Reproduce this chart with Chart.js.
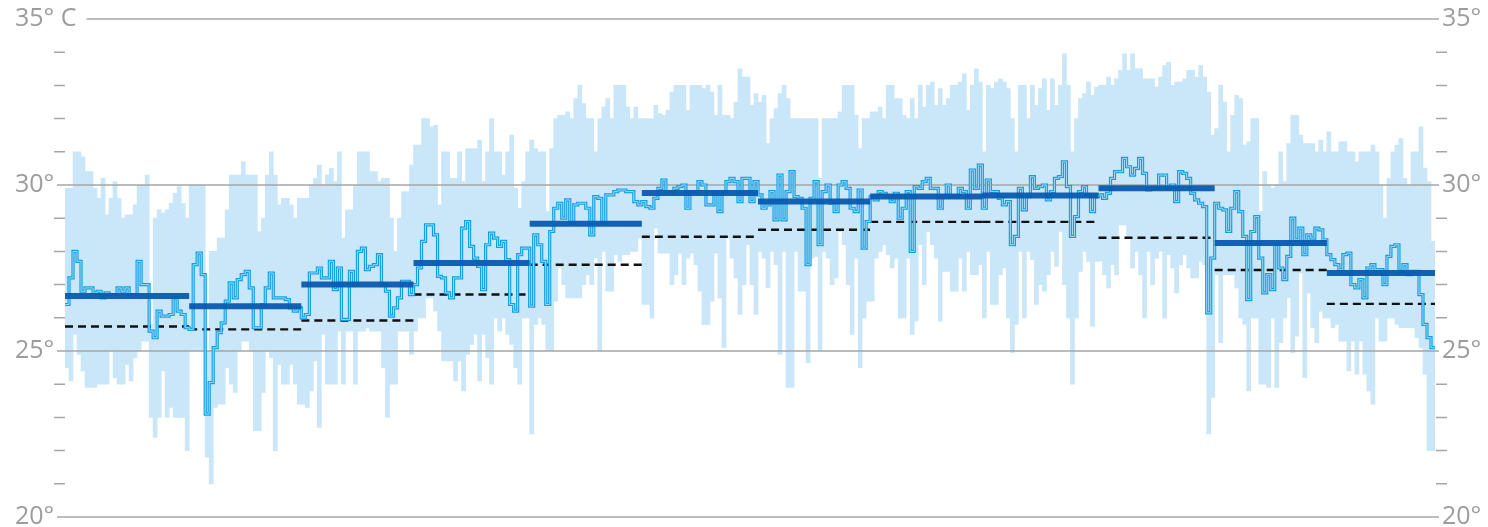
<!DOCTYPE html>
<html>
<head>
<meta charset="utf-8">
<script src="https://cdn.jsdelivr.net/npm/chart.js@4.4.1/dist/chart.umd.min.js"></script>
<style>
html,body{margin:0;padding:0;background:#ffffff;}
#wrap{width:1488px;height:527px;position:relative;}
</style>
</head>
<body>
<div id="wrap"><canvas id="c"></canvas></div>
<script>
// ---------- DATA ----------
const monthNames = ['Jan','Feb','Mar','Apr','May','Jun','Jul','Aug','Sep','Oct','Nov','Dec'];
const monthDays  = [31,28,28,29,28,29,28,28,29,29,28,27];   // days shown per month
const monthlyMean   = [26.66,26.35,27.0,27.65,28.83,29.76,29.5,29.65,29.68,29.9,28.25,27.35];
const monthlyNormal = [25.74,25.65,25.92,26.7,27.6,28.44,28.65,28.89,28.89,28.41,27.44,26.42];

const dailyHigh = [
 29.9,29.9,31.0,31.0,30.85,30.4,30.4,29.9,29.6,30.2,29.1,29.6,30.1,29.6,29.0,29.1,29.1,29.4,30.0,30.0,30.3,25.8,29.0,29.25,29.15,29.25,29.45,29.75,29.95,29.45,29.0,
 30.0,30.0,30.0,30.0,25.0,28.0,28.0,28.4,28.4,29.25,30.3,30.3,30.3,30.7,30.3,30.3,30.3,28.6,29.0,30.3,31.0,30.3,29.4,29.6,29.6,29.4,29.0,29.6,
 29.6,29.6,30.0,30.2,30.6,30.0,30.3,30.5,30.1,31.0,28.4,29.25,29.25,30.0,31.0,31.0,31.0,30.4,30.4,30.1,30.2,30.2,29.0,28.0,29.0,29.8,29.8,30.6,
 31.2,31.2,32.0,32.0,31.75,31.8,29.4,31.0,31.0,30.2,30.2,31.0,30.1,31.1,31.1,31.1,31.35,30.1,31.0,32.0,31.0,31.0,30.3,31.0,31.5,29.9,29.3,30.1,31.0,
 31.35,31.1,31.0,31.0,29.2,31.1,32.0,32.1,32.1,32.2,32.0,32.6,33.0,32.45,32.0,32.0,31.0,32.0,32.35,32.6,32.0,33.0,33.0,33.0,32.35,32.0,32.35,32.0,
 32.0,32.0,32.0,32.4,32.15,32.1,32.25,32.8,33.0,33.0,33.0,32.25,33.0,33.0,33.0,32.9,33.0,32.8,32.1,33.0,32.1,32.1,32.0,32.5,33.5,33.25,33.25,32.4,32.75,
 32.5,32.7,31.25,32.0,32.3,32.75,33.0,32.6,32.0,32.0,32.0,32.0,32.0,32.0,32.0,30.2,32.0,32.0,32.0,32.0,32.2,33.0,33.0,33.0,32.1,31.1,32.0,32.0,
 32.2,32.2,32.35,32.0,33.0,33.0,32.6,32.6,32.1,32.0,32.6,32.0,33.0,32.35,33.0,33.1,32.4,32.9,32.4,32.6,33.0,33.0,33.1,33.35,32.25,33.0,33.5,33.1,
 31.0,33.0,32.9,33.1,33.2,33.1,32.9,32.0,31.0,33.0,33.0,32.0,33.0,32.4,32.9,33.2,32.25,33.2,32.4,33.0,33.95,33.0,31.0,32.0,32.6,32.75,33.1,32.7,32.95,
 33.0,33.0,33.25,33.0,33.2,33.45,33.95,33.45,33.95,33.5,33.5,33.2,33.2,33.2,32.95,33.25,33.6,33.7,33.0,33.1,33.1,33.2,33.45,33.45,33.25,33.6,33.25,32.8,31.5,
 31.7,33.0,32.5,31.0,32.1,32.7,32.6,31.2,31.3,32.0,32.0,29.2,30.4,30.0,29.9,30.0,31.0,30.1,31.25,32.1,32.1,31.5,31.25,31.25,31.25,31.0,31.35,31.0,
 31.6,31.0,31.0,31.3,31.3,31.0,31.0,30.7,31.0,31.0,31.0,31.2,31.0,30.0,29.0,30.2,31.0,31.2,31.4,30.2,30.0,31.0,31.0,31.75,30.5,30.1,28.3
];
const dailyLow = [
 24.5,24.1,25.5,24.9,24.4,23.9,23.9,23.9,24.0,24.0,24.0,25.0,24.2,24.0,24.0,24.6,24.1,24.8,25.0,25.3,25.3,23.0,22.4,23.0,24.4,23.0,23.3,23.0,23.0,23.0,22.0,
 25.0,25.0,25.0,25.0,21.8,21.0,23.3,23.4,23.4,24.5,24.0,23.75,25.0,25.3,25.3,25.0,22.6,22.6,23.75,25.0,24.8,22.0,24.6,24.0,24.0,24.6,24.0,23.4,
 23.4,23.3,23.8,24.7,22.7,25.5,24.0,24.0,24.0,25.6,24.0,25.6,25.6,24.0,25.6,25.6,25.7,25.6,25.6,25.6,24.5,23.0,24.0,24.0,25.6,25.6,25.6,24.9,
 25.6,26.0,26.0,26.6,26.6,26.2,25.6,24.7,24.7,24.7,24.1,24.7,23.8,24.9,25.2,25.5,24.1,25.5,24.8,24.0,26.0,25.6,26.0,25.5,25.2,24.5,24.0,26.0,26.0,
 22.5,25.8,26.0,25.8,25.0,25.0,26.5,27.5,27.0,26.6,26.6,26.6,26.6,27.0,27.3,27.0,27.8,25.0,28.0,26.8,26.8,27.9,27.7,27.9,27.9,28.0,28.0,28.4,
 26.4,26.4,26.0,28.7,27.95,27.95,27.95,27.0,27.3,27.95,27.0,27.8,27.95,27.6,26.8,25.8,25.8,26.5,27.95,26.6,25.1,28.4,27.8,27.2,26.1,27.0,28.2,27.0,26.1,
 28.0,27.8,26.9,28.0,27.6,24.9,28.0,23.9,23.9,28.0,26.8,26.8,24.65,27.8,27.85,25.0,28.0,27.8,27.0,27.2,28.6,28.2,27.0,25.5,27.8,24.5,26.0,26.5,
 26.5,27.8,28.0,28.2,27.9,27.5,27.8,26.0,26.0,27.8,25.5,25.9,28.2,27.0,28.6,28.2,27.8,25.9,27.4,27.4,26.8,26.8,27.8,26.8,28.0,27.3,27.3,27.6,
 26.0,28.0,26.4,26.4,27.3,27.5,26.0,24.95,25.8,28.0,26.0,28.0,27.75,26.4,27.0,26.8,27.3,28.0,27.55,28.6,27.0,26.0,24.0,26.0,27.4,28.0,27.7,25.75,27.7,
 27.7,27.3,26.9,27.6,27.3,28.8,28.8,28.45,27.5,28.0,27.3,26.0,28.0,27.0,27.8,28.0,26.0,27.9,27.5,26.75,27.6,27.9,27.5,27.2,27.2,27.7,27.6,22.5,23.6,
 27.3,25.25,27.3,27.3,27.3,26.9,26.0,25.8,23.8,26.0,26.0,24.0,24.0,23.9,26.0,23.9,25.25,26.0,26.6,24.95,25.45,27.35,24.2,26.75,25.7,25.25,26.2,26.0,
 26.0,25.7,25.8,25.3,25.3,24.4,25.3,24.3,25.3,24.3,23.8,23.4,26.0,25.3,25.3,26.0,26.0,25.8,25.7,25.7,25.7,25.7,25.4,25.1,24.3,22.0,22.0
];
const dailyMean = [
 26.4,27.2,28.0,27.7,26.8,26.9,26.9,26.75,26.8,26.6,26.75,26.7,26.7,26.9,26.8,26.9,26.7,26.7,27.7,27.0,27.0,25.6,25.4,26.2,26.05,26.05,26.1,26.6,26.2,26.1,25.7,
 25.65,27.6,27.95,27.3,23.1,24.05,25.1,25.55,25.85,26.5,27.05,26.6,27.15,27.3,27.4,26.9,25.7,25.7,26.4,26.9,27.35,26.6,26.6,26.6,26.55,26.3,26.2,26.3,
 26.0,26.1,27.35,27.35,27.5,27.2,27.2,27.7,26.85,27.5,25.95,25.95,27.4,27.0,28.0,28.1,27.45,27.55,27.6,27.9,27.0,26.8,26.05,26.3,26.6,27.1,27.1,26.7,
 27.0,27.5,28.3,28.8,28.8,28.5,27.25,27.2,26.75,26.6,27.2,27.2,28.7,28.9,28.15,27.8,27.55,26.85,28.2,28.55,28.4,28.15,28.3,27.75,26.4,26.2,27.9,28.1,28.1,
 26.35,28.5,28.2,27.7,26.4,28.6,29.3,29.45,29.0,29.55,28.85,29.4,29.45,29.45,29.3,28.5,29.65,29.6,28.85,29.7,29.7,29.8,29.85,29.85,29.8,29.8,29.5,29.4,
 29.5,29.35,29.3,29.6,29.9,30.15,29.8,29.8,29.9,29.95,30.0,29.3,29.8,29.8,30.1,30.0,29.4,29.4,29.8,29.2,29.8,30.1,30.2,30.1,29.5,30.2,30.2,29.5,30.1,
 29.7,29.3,29.4,29.8,28.95,30.3,28.95,29.8,30.4,29.65,29.6,29.3,27.6,29.6,30.1,28.2,29.8,30.0,29.45,29.2,30.0,30.1,29.9,29.3,29.2,29.85,28.1,28.9,
 29.65,29.55,29.8,29.75,29.65,29.5,29.75,29.0,29.3,29.8,28.0,29.95,29.9,30.1,30.2,29.9,29.9,29.3,29.65,30.0,29.65,29.65,29.9,29.8,29.3,30.45,29.9,30.6,
 29.3,30.15,29.8,29.8,29.6,29.4,29.5,28.2,28.45,29.9,29.25,29.65,30.25,29.9,29.95,30.0,29.55,29.8,30.2,30.25,30.7,29.95,28.45,29.05,29.8,29.95,29.7,29.2,29.65,
 29.7,29.6,29.75,30.2,30.4,30.4,30.8,30.55,30.3,30.5,30.8,30.35,29.85,29.9,29.9,30.3,30.3,29.9,30.0,29.5,30.4,30.35,30.2,29.75,29.55,29.45,29.35,26.15,27.8,
 29.45,29.3,29.25,28.6,29.3,29.8,29.2,28.45,26.55,28.6,29.05,27.8,26.75,27.3,26.85,28.2,27.5,27.15,27.85,29.0,28.35,28.7,27.9,28.5,28.4,28.7,28.65,28.35,
 27.9,27.75,27.6,27.45,27.9,27.95,27.0,26.9,27.15,26.6,27.5,27.6,27.45,27.45,27.0,27.85,28.15,28.2,27.4,27.6,27.3,27.4,27.4,26.7,25.8,25.4,25.1
];

const yTickValues  = [20,25,30,35];
const leftLabels   = ['20°','25°','30°','35° C'];
const rightLabels  = ['20°','25°','30°','35°'];

// ---------- BUILD ----------
const N = dailyMean.length;
const monthStart = [];
{ let acc = 0; monthDays.forEach(d => { monthStart.push(acc); acc += d; }); }

const rangeData = dailyHigh.map((h, i) => ({ x: i + 0.5, y: [dailyLow[i], h] }));
const meanData = dailyMean.map((v, i) => ({ x: i, y: v }));
meanData.push({ x: N, y: dailyMean[N - 1] });

function monthSegments(vals) {
  const pts = [];
  vals.forEach((v, m) => {
    const s = monthStart[m], e = monthStart[m] + monthDays[m];
    pts.push({ x: s, y: v }, { x: e, y: v }, { x: e, y: null });
  });
  return pts;
}

const LABEL_FONT = { family: '"Open Sans", "Noto Sans", sans-serif', size: 25 };
const LABEL_COLOR = '#9c9c9c';
const GRID_COLOR = '#a6a6a6';
const LEFT_LABEL_X = 15;

const decor = {
  id: 'decor',
  afterDatasetDraw(chart, args) {
    if (args.index !== 0) return;
    const { ctx, chartArea: a } = chart;
    const ys = chart.scales.y;
    const yMin = ys.min, yMax = ys.max;
    ctx.save();
    ctx.strokeStyle = GRID_COLOR;
    ctx.lineWidth = 1.5;
    ctx.font = LABEL_FONT.size + 'px ' + LABEL_FONT.family;
    const topLabelW = ctx.measureText(leftLabels[leftLabels.length - 1]).width;
    for (let v = yMin; v <= yMax; v++) {
      const py = ys.getPixelForValue(v);
      ctx.beginPath();
      if (yTickValues.includes(v)) {
        const x0 = (v === yMax) ? LEFT_LABEL_X + topLabelW + 10 : a.left - 8;
        ctx.moveTo(x0, py);
        ctx.lineTo(a.right + 4, py);
      } else {
        ctx.moveTo(a.left - 11, py); ctx.lineTo(a.left, py);
        ctx.moveTo(a.right + 1, py); ctx.lineTo(a.right + 12, py);
      }
      ctx.stroke();
    }
    ctx.restore();
  }
};

const chart = new Chart(document.getElementById('c'), {
  type: 'bar',
  data: {
    datasets: [
      {
        type: 'bar', label: 'Daily range', data: rangeData,
        backgroundColor: '#c9e7f9', borderWidth: 0,
        barPercentage: 1, categoryPercentage: 1, inflateAmount: 0.35,
        order: 5
      },
      {
        type: 'line', label: 'Normal', data: monthSegments(monthlyNormal),
        borderColor: '#111111', borderWidth: 2.4, borderDash: [8, 5],
        pointRadius: 0, spanGaps: false, order: 4
      },
      {
        type: 'line', label: 'Daily mean', data: meanData, stepped: 'before',
        borderColor: '#129ee2', borderWidth: 3.2, pointRadius: 0, order: 3
      },
      {
        type: 'line', label: 'Daily mean core', data: meanData, stepped: 'before',
        borderColor: '#a3daf6', borderWidth: 1.0, pointRadius: 0, order: 2
      },
      {
        type: 'line', label: 'Monthly mean', data: monthSegments(monthlyMean),
        borderColor: 'rgba(8,90,175,0.95)', borderWidth: 6, borderCapStyle: 'butt',
        pointRadius: 0, spanGaps: false, order: 1
      }
    ]
  },
  options: {
    responsive: true, maintainAspectRatio: false, animation: false,
    layout: { padding: { left: LEFT_LABEL_X, right: 0, top: 19, bottom: 10 } },
    plugins: { legend: { display: false }, tooltip: { enabled: false } },
    scales: {
      x: { type: 'linear', min: 0, max: N, offset: false, display: false },
      y: {
        position: 'left', min: 20, max: 35,
        grid: { display: false, drawTicks: false }, border: { display: false },
        ticks: {
          stepSize: 5, mirror: true, crossAlign: 'near', padding: -50,
          font: LABEL_FONT, color: LABEL_COLOR,
          callback: v => { const k = yTickValues.indexOf(v); return k >= 0 ? leftLabels[k] : ''; }
        },
        afterFit(s) { s.width = 50; s.paddingTop = 0; s.paddingBottom = 0; }
      },
      y2: {
        position: 'right', min: 20, max: 35,
        grid: { display: false, drawTicks: false }, border: { display: false },
        ticks: {
          stepSize: 5, padding: 7, font: LABEL_FONT, color: LABEL_COLOR,
          callback: v => { const k = yTickValues.indexOf(v); return k >= 0 ? rightLabels[k] : ''; }
        },
        afterFit(s) { s.width = 53; s.paddingTop = 0; s.paddingBottom = 0; }
      }
    }
  },
  plugins: [decor]
});
</script>
</body>
</html>
